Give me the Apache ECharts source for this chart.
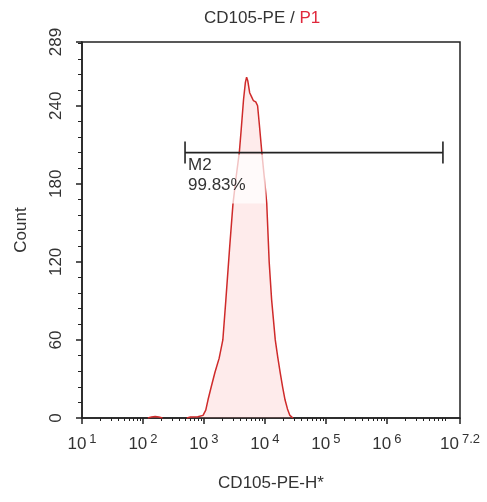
<!DOCTYPE html>
<html>
<head>
<meta charset="utf-8">
<script src="https://cdn.jsdelivr.net/npm/echarts@6/dist/echarts.min.js"></script>
<style>
  html, body { margin: 0; padding: 0; background: #fff; }
  #chart { width: 487px; height: 502px; }
</style>
</head>
<body>
<div id="chart"></div>
<script>
// Histogram channels (log10 of CD105-PE-H) and event counts; null splits the trace
const logChannel = [2.08, 2.14, 2.20, 2.26, 2.32, null, 2.72, 2.78, 2.90, 2.985, 3.03, 3.067, 3.12, 3.18, 3.25, 3.31, 3.36, 3.42, 3.477, 3.53, 3.58, 3.61, 3.65, 3.68, 3.70, 3.72, 3.75, 3.78, 3.81, 3.85, 3.88, 3.91, 3.95, 3.99, 4.03, 4.07, 4.11, 4.17, 4.21, 4.25, 4.29, 4.33, 4.37, 4.41, 4.46];
const counts     = [0,    0.8,  1.2,  0.8,  0,    null, 0,    0.8,  0.9,  2,     6,    14,    24,   35,   46,   60,   91,   130,  165,   186,  204,  221,  245,  258,  262,  259,  250,  247,  244,  243,  240,  225,  204,  185,  165,  120,  91,   60,   47,   35,   24,   14,   7,    2,    0];

// Axis ticks
const xTickLogs = [1, 2, 3, 4, 5, 6, 7.2];
const yTicks = [0, 60, 120, 180, 240, 289];
const yMinorStep = 12;

// Marker region M2
const gateName = 'M2';
const gatePercent = '99.83%';
const gateRange = [2.69, 6.92];
const gateLevel = 204;

const FONT = 'Liberation Sans, Arial, sans-serif';
const FS = 17;

// log minor ticks (2..9 within each decade)
const xMinorLogs = [];
for (let d = 1; d < 8; d++) {
  for (let k = 2; k <= 9; k++) {
    const v = d + Math.log10(k);
    if (v < 7.2) xMinorLogs.push(+v.toFixed(4));
  }
}
const yMinor = [];
for (let v = yMinorStep; v < 289; v += yMinorStep) {
  if (v % 60 !== 0) yMinor.push(v);
}

const histData = logChannel.map((x, i) => (x === null ? [null, null] : [x, counts[i]]));

const chart = echarts.init(document.getElementById('chart'), null, { renderer: 'canvas' });

const axisCommon = { min: 1, max: 7.2 };

chart.setOption({
  animation: false,
  backgroundColor: '#fff',
  textStyle: { fontFamily: FONT },
  title: {
    text: '{a|CD105-PE / }{b|P1}',
    left: 199,
    top: 5,
    textStyle: {
      fontWeight: 'normal',
      rich: {
        a: { fontSize: FS, color: '#333', fontFamily: FONT, fontWeight: 'normal' },
        b: { fontSize: FS, color: '#e0283c', fontFamily: FONT, fontWeight: 'normal' }
      }
    }
  },
  grid: {
    left: 82, right: 27, top: 42, bottom: 84,
    show: true, borderColor: '#222', borderWidth: 1.5, backgroundColor: 'transparent'
  },
  xAxis: [
    {
      type: 'value', ...axisCommon,
      position: 'bottom',
      splitLine: { show: false },
      axisLine: { show: true, onZero: false, lineStyle: { color: '#222', width: 1.5 } },
      axisTick: { show: true, customValues: xTickLogs, length: 6, lineStyle: { color: '#222', width: 1.5 } },
      axisLabel: {
        customValues: xTickLogs,
        margin: 15,
        color: '#333',
        formatter: v => '{b|10}{s|' + (Number.isInteger(v) ? v : v.toFixed(1)) + '}',
        rich: {
          b: { fontSize: FS, fontFamily: FONT, color: '#333', lineHeight: 22 },
          s: { fontSize: 13, fontFamily: FONT, color: '#333', verticalAlign: 'top', lineHeight: 14, padding: [0, 0, 0, 3] }
        }
      },
      name: 'CD105-PE-H*',
      nameLocation: 'middle',
      nameGap: 57,
      nameTextStyle: { fontSize: FS, color: '#333', fontFamily: FONT }
    },
    {
      type: 'value', ...axisCommon,
      position: 'bottom',
      splitLine: { show: false },
      axisLine: { show: false },
      axisLabel: { show: false },
      axisTick: { show: true, customValues: xMinorLogs, length: 3, lineStyle: { color: '#222', width: 1 } }
    }
  ],
  yAxis: [
    {
      type: 'value', min: 0, max: 289,
      position: 'left',
      splitLine: { show: false },
      axisLine: { show: true, onZero: false, lineStyle: { color: '#222', width: 1.5 } },
      axisTick: { show: true, customValues: yTicks, length: 6, lineStyle: { color: '#222', width: 1.5 } },
      axisLabel: {
        customValues: yTicks,
        rotate: 90,
        margin: 17,
        fontSize: FS,
        fontFamily: FONT,
        color: '#333'
      },
      name: 'Count',
      nameLocation: 'middle',
      nameGap: 52,
      nameRotate: 90,
      nameTextStyle: { fontSize: FS, color: '#333', fontFamily: FONT }
    },
    {
      type: 'value', min: 0, max: 289,
      position: 'left',
      splitLine: { show: false },
      axisLine: { show: false },
      axisLabel: { show: false },
      axisTick: { show: true, customValues: yMinor, length: 4, lineStyle: { color: '#222', width: 1 } }
    }
  ],
  series: [
    {
      type: 'line',
      xAxisIndex: 0, yAxisIndex: 0,
      data: histData,
      connectNulls: false,
      showSymbol: false,
      symbol: 'none',
      smooth: false,
      lineStyle: { color: '#cf2a2a', width: 1.5 },
      areaStyle: { color: 'rgba(250,160,160,0.3)' },
      z: 2
    },
    {
      type: 'custom',
      xAxisIndex: 0, yAxisIndex: 0,
      data: [[gateRange[0], gateRange[1], gateLevel]],
      z: 5,
      renderItem: (params, api) => {
        const p0 = api.coord([api.value(0), api.value(2)]);
        const p1 = api.coord([api.value(1), api.value(2)]);
        const cap = 11;
        const stroke = { stroke: '#222', lineWidth: 1.6 };
        return {
          type: 'group',
          children: [
            {
              type: 'text',
              x: p0[0] + 1, y: p0[1] + 2,
              style: {
                text: gateName + '\n' + gatePercent,
                fill: '#333',
                font: FS + 'px ' + FONT,
                lineHeight: 20,
                align: 'left',
                verticalAlign: 'top',
                backgroundColor: 'rgba(255,255,255,0.72)',
                padding: [1, 20, 8, 2]
              }
            },
            { type: 'line', shape: { x1: p0[0], y1: p0[1], x2: p1[0], y2: p1[1] }, style: stroke },
            { type: 'line', shape: { x1: p0[0], y1: p0[1] - cap, x2: p0[0], y2: p0[1] + cap }, style: stroke },
            { type: 'line', shape: { x1: p1[0], y1: p1[1] - cap, x2: p1[0], y2: p1[1] + cap }, style: stroke }
          ]
        };
      }
    }
  ]
});
</script>
</body>
</html>
